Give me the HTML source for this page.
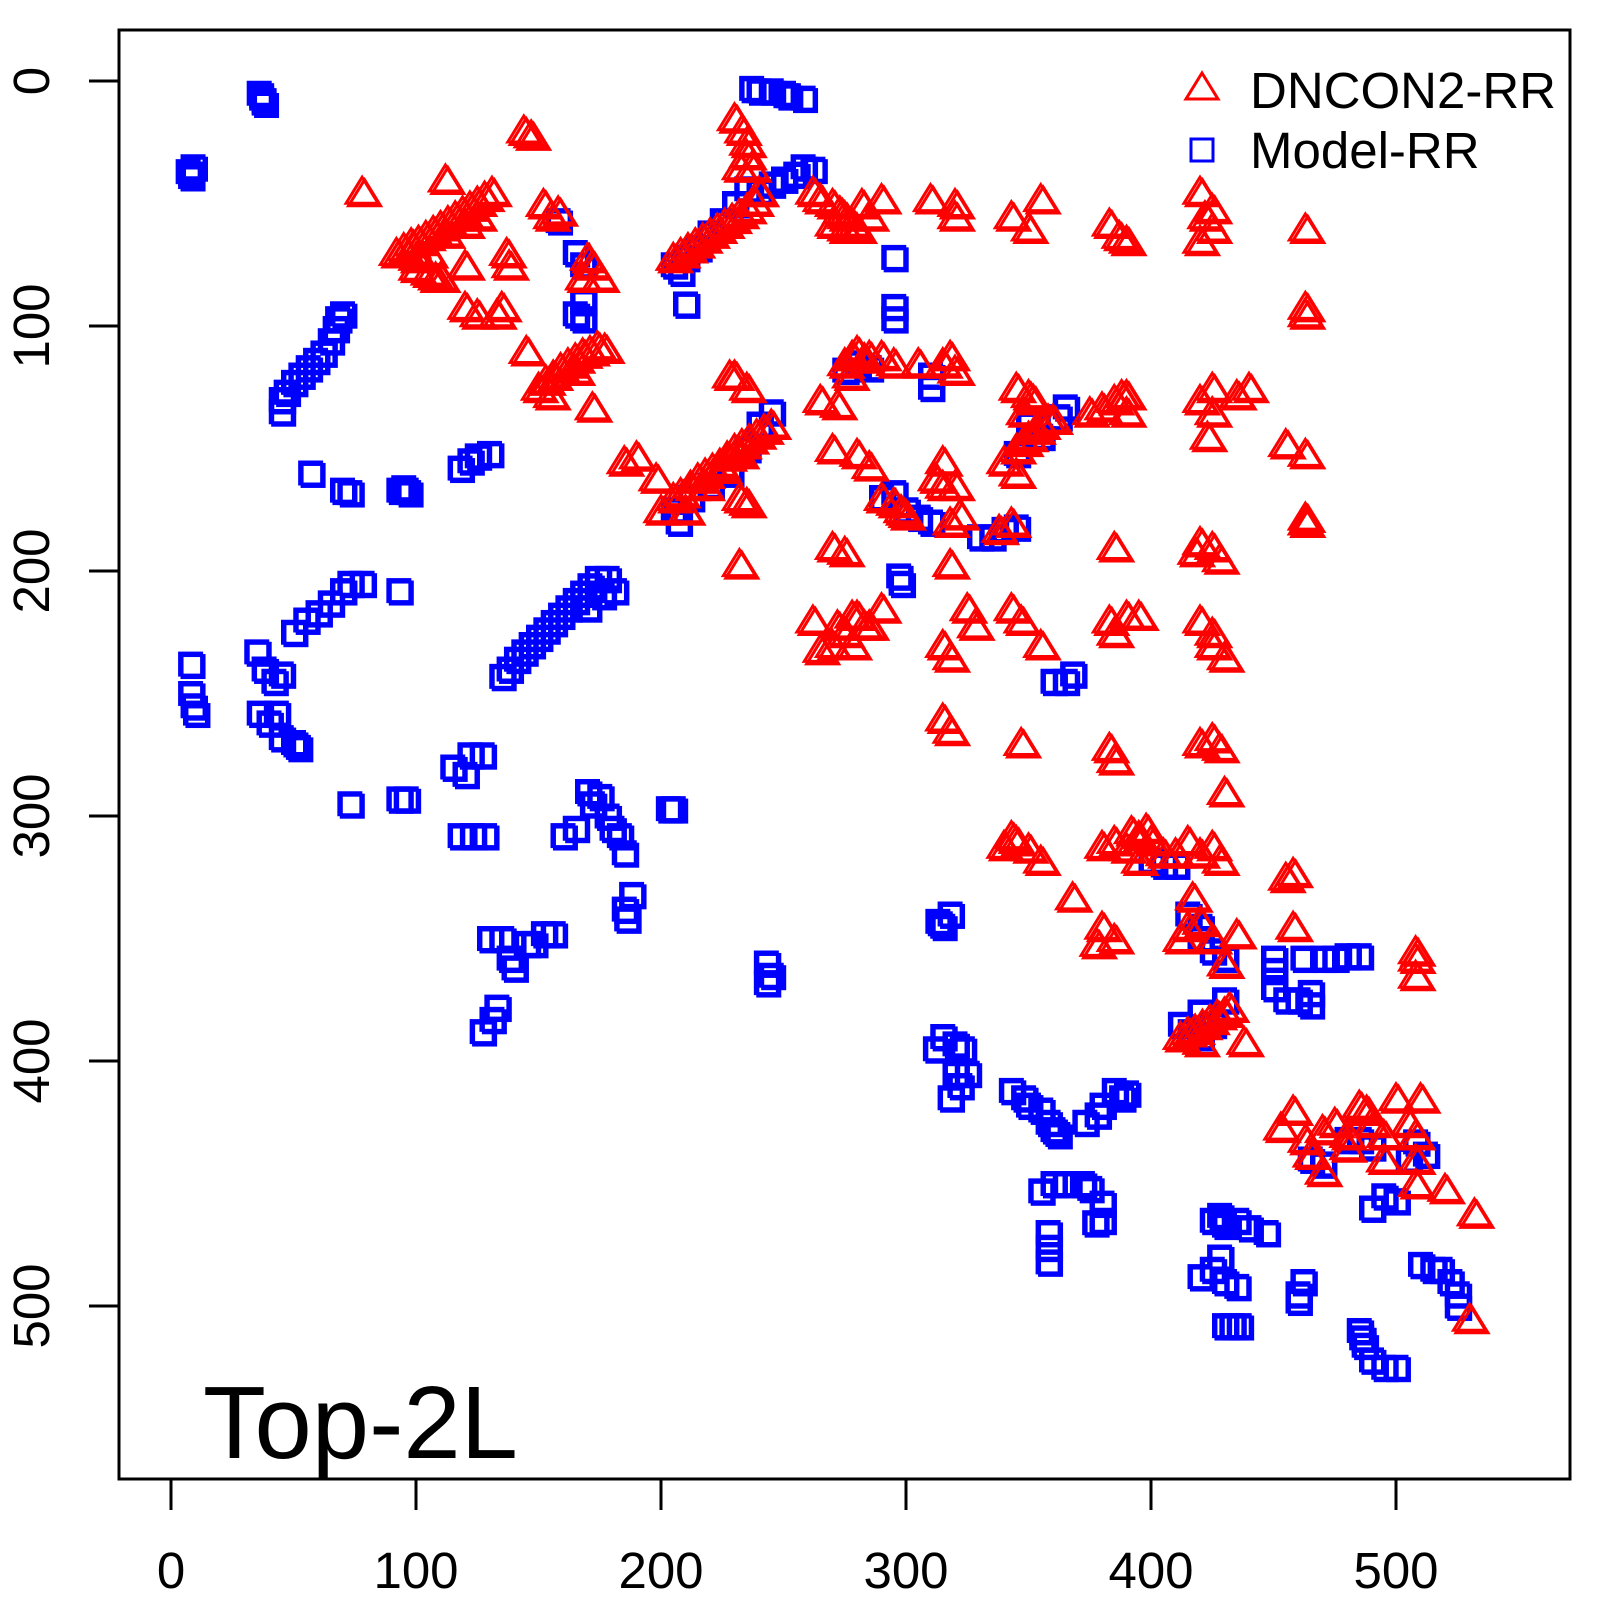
<!DOCTYPE html>
<html><head><meta charset="utf-8"><style>
html,body{margin:0;padding:0;background:#fff;}
svg{display:block;font-family:"Liberation Sans",Arial,sans-serif;}
</style></head><body>
<svg id="s" width="1600" height="1600" viewBox="0 0 1600 1600" xmlns="http://www.w3.org/2000/svg">
<rect width="1600" height="1600" fill="#fff"/>
<g id="pts"></g>
<rect x="119" y="30" width="1451" height="1449" fill="none" stroke="#000" stroke-width="3"/>
<g stroke="#000" stroke-width="3">
<line x1="171" y1="1479" x2="171" y2="1510"/><line x1="416" y1="1479" x2="416" y2="1510"/><line x1="661" y1="1479" x2="661" y2="1510"/><line x1="906" y1="1479" x2="906" y2="1510"/><line x1="1151" y1="1479" x2="1151" y2="1510"/><line x1="1396" y1="1479" x2="1396" y2="1510"/>
<line x1="89" y1="81" x2="119" y2="81"/><line x1="89" y1="326" x2="119" y2="326"/><line x1="89" y1="571" x2="119" y2="571"/><line x1="89" y1="816" x2="119" y2="816"/><line x1="89" y1="1061" x2="119" y2="1061"/><line x1="89" y1="1306" x2="119" y2="1306"/>
</g>
<g font-size="51" text-anchor="middle" fill="#000">
<text x="171" y="1588">0</text><text x="416" y="1588">100</text><text x="661" y="1588">200</text><text x="906" y="1588">300</text><text x="1151" y="1588">400</text><text x="1396" y="1588">500</text>
<text transform="translate(49,81) rotate(-90)">0</text>
<text transform="translate(49,326) rotate(-90)">100</text>
<text transform="translate(49,571) rotate(-90)">200</text>
<text transform="translate(49,816) rotate(-90)">300</text>
<text transform="translate(49,1061) rotate(-90)">400</text>
<text transform="translate(49,1306) rotate(-90)">500</text>
</g>
<polygon points="1202,73 1218,99 1186,99" fill="none" stroke="#f00" stroke-width="3"/>
<rect x="1191" y="139" width="22" height="22" fill="none" stroke="#00f" stroke-width="3"/>
<text x="1250" y="108" font-size="51">DNCON2-RR</text>
<text x="1250" y="168" font-size="51">Model-RR</text>
<text x="203" y="1458" font-size="103">Top-2L</text>
</svg>
<script>
var X=function(u){return 171+2.45*u},Y=function(v){return 81+2.45*v};
var sq=[[37,7],[38,9],[36,5],[7,37],[9,35],[8,39],
[45,130],[47,127],[50,123],[53,120],[56,117],[59,114],[62,111],[65,106],[67,101],[68,97],[70,95],[45,135],
[57,160],[70,167],[73,168],[93,167],[95,166],[97,168],
[8,238],[8,250],[9,255],[10,258],[35,233],[38,240],[42,245],[45,242],[36,258],[40,262],[43,258],[45,268],[50,270],[52,272],
[50,225],[55,220],[60,217],[65,213],[70,208],[73,205],[78,205],[93,208],
[73,295],[93,293],[96,293],
[118,158],[122,155],[125,153],[130,152],
[115,280],[120,283],[122,275],[127,275],[118,308],[123,308],[128,308],
[135,243],[138,240],[141,236],[144,233],[147,230],[150,227],[153,224],[156,221],[159,218],[162,215],[165,212],[168,209],[171,206],[174,203],[178,203],[181,208],[176,210],[170,215],
[127,388],[131,383],[133,378],[130,350],[135,350],[138,358],[140,362],[145,352],[148,352],[152,348],[156,348],
[160,308],[165,305],[170,290],[172,295],[175,292],[178,300],[180,305],[185,315],[183,308],[185,338],[188,332],[186,342],
[205,297],[203,297],
[165,70],[168,75],[168,90],[165,95],[168,97],[158,57],
[210,91],[205,75],[208,78],
[237,3],[240,4],[245,4],[250,5],[252,6],[258,7],
[258,35],[262,36],[255,38],[250,40],[245,42],[240,45],
[295,72],[295,92],[295,97],
[243,360],[245,365],[243,368],
[205,175],[207,180],[212,170],[220,165],[228,160],[235,150],[240,140],[245,135],
[210,72],[215,68],[220,62],[225,57],[230,50],[235,44],
[275,118],[280,115],[285,117],[290,170],[295,168],[300,175],[305,178],[310,180],[310,120],[310,125],
[330,186],[335,186],[340,183],[345,182],
[297,202],[298,205],
[360,245],[365,245],[368,242],
[345,152],[365,133],[362,137],[350,140],[355,145],
[313,343],[315,345],[318,340],
[312,395],[315,390],[320,393],[323,395],[320,405],[322,410],[318,415],[325,405],
[343,412],[348,415],[350,418],[355,420],[358,425],[360,428],[362,430],
[373,425],[378,422],[380,418],[385,412],[388,415],[390,413],
[355,453],[360,450],[365,450],[372,450],[375,452],[380,458],[380,465],[377,466],
[358,470],[358,476],[358,482],
[412,385],[416,388],[420,380],[420,390],[425,385],[430,375],
[400,318],[405,320],[410,320],
[415,340],[420,345],[420,350],[425,355],[430,358],
[425,465],[428,463],[430,467],[435,465],[440,468],[447,470],
[420,488],[425,485],[428,480],[430,490],[435,492],
[430,508],[433,508],[436,508],
[450,358],[450,363],[450,370],[455,375],[460,375],[465,377],[465,372],[462,358],[470,358],[475,358],[480,357],[485,357],
[460,495],[462,490],[460,498],
[480,432],[485,432],[490,435],[490,460],[495,455],[500,457],
[485,510],[486,513],[487,516],[490,522],[495,525],[500,525],
[508,433],[512,438],[505,440],
[510,483],[515,485],[518,485],[522,490],[525,495],[525,500],
[465,440],[470,442]];
var tr=[[144,20],[147,22],[78,45],
[92,70],[95,68],[98,66],[101,65],[104,63],[107,61],[110,59],[113,57],[116,55],[119,53],[122,51],[125,49],[128,47],[131,45],[100,72],[105,70],[112,62],[120,58],[125,55],
[112,40],[105,78],[108,80],[110,80],[100,76],
[137,70],[138,75],[120,75],
[120,92],[125,95],[133,95],[135,92],
[152,50],[155,55],[158,53],
[145,110],
[150,125],[153,122],[156,120],[159,117],[162,115],[165,113],[168,111],[171,110],[174,108],[177,109],[155,128],[165,118],
[172,75],[175,80],[168,80],[170,72],
[172,133],[185,155],[190,153],
[198,162],[200,175],[205,170],[210,175],
[208,168],[212,165],[215,162],[218,160],[221,158],[224,156],[227,153],[230,150],[233,148],[236,146],[239,144],[242,142],[245,140],[218,165],[225,158],[232,152],
[228,120],[230,120],[235,125],
[232,170],[235,172],[232,197],
[230,15],[233,20],[235,25],[235,30],[237,35],[240,45],[232,35],
[205,72],[208,70],[211,68],[214,66],[217,64],[220,62],[223,60],[226,58],[229,56],[232,54],[235,52],[238,49],[240,45],
[262,45],[265,48],[270,50],[273,53],[275,55],[278,58],[280,60],[285,55],[290,48],[275,60],[270,58],[282,50],
[265,130],[272,132],
[270,150],[280,152],[285,157],
[270,190],[275,192],
[275,115],[278,112],[280,110],[283,113],[285,112],[290,112],[295,115],[277,120],
[305,115],[315,115],[318,112],[320,118],
[290,170],[295,172],[298,175],[300,177],
[315,155],[312,162],[315,165],[320,165],[318,180],[322,177],[318,197],
[262,220],[265,232],[270,230],[275,225],[278,218],[280,218],[283,222],[285,222],[290,215],[278,230],[272,222],
[315,230],[318,235],[315,260],[318,265],[325,215],[328,222],
[338,183],[343,180],
[310,48],[320,50],[320,55],
[343,55],[350,60],[355,48],
[345,125],
[340,155],[345,150],[348,147],[350,145],[353,142],[355,140],[358,138],[360,138],[352,130],[350,128],[345,160],[348,135],
[343,215],[347,220],[355,230],
[347,270],
[345,310],[340,312],[343,308],[350,313],[355,318],
[368,333],
[383,58],[387,63],[390,65],
[375,135],[380,133],[385,130],[388,128],[390,128],[390,135],
[385,190],
[383,220],[385,225],[390,218],[395,218],
[383,272],[385,277],
[380,312],[385,310],[390,313],[392,306],[395,308],[398,305],[400,310],[395,318],[405,315],[410,315],
[380,345],[385,350],[378,352],
[420,45],[422,55],[425,60],[420,65],[425,52],
[420,130],[425,125],[425,135],[435,128],[440,125],
[423,145],
[420,188],[425,190],[428,195],[418,192],
[420,220],[425,225],[425,230],[430,235],
[420,270],[425,268],[428,272],
[430,290],
[415,310],[420,315],[425,312],[428,318],
[415,345],[420,343],[417,333],[425,350],[435,348],[430,360],[412,350],
[412,390],[415,388],[418,387],[421,385],[424,383],[427,381],[430,380],[432,378],[438,392],[420,392],
[455,148],[463,152],
[463,60],[463,92],[463,95],
[463,178],[463,180],
[455,325],[458,323],[458,345],
[508,355],[508,365],[508,358],
[453,427],[458,420],[463,432],[470,428],[470,445],[475,425],[480,430],[485,418],[490,425],[495,430],[500,415],[505,425],[508,430],[510,415],[508,440],[495,440],[488,420],[480,435],[465,438],
[508,450],[520,452],
[532,462],[530,505]];
var s='';
function addSq(u,v){var x=X(u),y=Y(v);s+='<rect x="'+(x-11)+'" y="'+(y-11)+'" width="22" height="22" fill="none" stroke="#00f" stroke-width="3"/>';}
function addTr(u,v){var x=X(u),y=Y(v);s+='<polygon points="'+x+','+(y-14)+' '+(x+16)+','+(y+12)+' '+(x-16)+','+(y+12)+'" fill="none" stroke="#f00" stroke-width="3"/>';}
sq.forEach(function(p){addSq(p[0],p[1]);addSq(p[0]+1,p[1]+1);});
tr.forEach(function(p){addTr(p[0],p[1]);addTr(p[0]+1,p[1]+1);});
document.getElementById('pts').innerHTML=s;
</script>
</body></html>
